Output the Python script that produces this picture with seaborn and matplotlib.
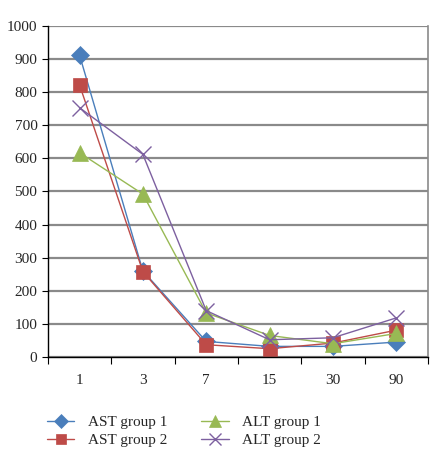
import seaborn as sns
import matplotlib.pyplot as plt
from matplotlib.ticker import MultipleLocator, FixedLocator
import pandas as pd

# days after treatment
days = ['1', '3', '7', '15', '30', '90']

ast_group1 = [912, 260, 47, 32, 32, 45]
ast_group2 = [822, 258, 37, 25, 42, 81]
alt_group1 = [617, 492, 133, 65, 40, 71]
alt_group2 = [753, 612, 140, 52, 58, 118]

series = ['AST group 1', 'AST group 2', 'ALT group 1', 'ALT group 2']
values = [ast_group1, ast_group2, alt_group1, alt_group2]

rows = []
for name, vals in zip(series, values):
    for i, (d, v) in enumerate(zip(days, vals)):
        rows.append({'pos': i, 'day': d, 'value': v, 'series': name})
df = pd.DataFrame(rows)

colors = {'AST group 1': '#4A7EBB', 'AST group 2': '#BE4B48',
          'ALT group 1': '#98B954', 'ALT group 2': '#7D60A0'}
markers = {'AST group 1': 'D', 'AST group 2': 's',
           'ALT group 1': '^', 'ALT group 2': 'x'}
sizes = {'AST group 1': 9, 'AST group 2': 10, 'ALT group 1': 11, 'ALT group 2': 12}

sns.set_style('white')
plt.rcParams['font.family'] = ['Liberation Serif', 'DejaVu Serif']

fig = plt.figure(figsize=(4.43, 4.63), dpi=100)
ax = fig.add_axes([0.108, 0.229, 0.858, 0.715])

for name in series:
    sub = df[df['series'] == name]
    m = markers[name]
    sns.lineplot(data=sub, x='pos', y='value', ax=ax, color=colors[name],
                 marker=m, markersize=sizes[name], linewidth=1,
                 markeredgecolor=colors[name],
                 markeredgewidth=1 if m == 'x' else 0.5,
                 label=name)

ax.set_xlim(-0.5, 5.5)
ax.set_ylim(0, 1000)
ax.xaxis.set_major_locator(FixedLocator(range(len(days))))
ax.set_xticklabels(days)
ax.xaxis.set_minor_locator(FixedLocator([i - 0.5 for i in range(len(days) + 1)]))
ax.tick_params(axis='x', which='major', length=0, pad=12, labelsize=11)
ax.tick_params(axis='x', which='minor', length=5, width=0.8, direction='out', color='black', bottom=True)
ax.yaxis.set_major_locator(MultipleLocator(100))
ax.tick_params(axis='y', length=4, width=0.8, direction='out', color='black', left=True, labelsize=11)
ax.grid(axis='y', color='#8a8a8a', linewidth=1.6)
ax.set_axisbelow(True)
ax.set_xlabel('')
ax.set_ylabel('')

for s in ['left', 'bottom']:
    ax.spines[s].set_color('black')
    ax.spines[s].set_linewidth(1)
ax.spines['top'].set_visible(False)
ax.spines['right'].set_color('#8a8a8a')
ax.spines['right'].set_linewidth(1.2)

handles, labels = ax.get_legend_handles_labels()
ax.get_legend().remove()
fig.legend(handles, labels, ncol=2, loc='upper left', bbox_to_anchor=(0.075, 0.133),
           frameon=False, fontsize=11, handlelength=1.8, columnspacing=2.2,
           labelspacing=0.3, handletextpad=0.9, markerscale=0.75)

fig.savefig('out.png', dpi=100)
